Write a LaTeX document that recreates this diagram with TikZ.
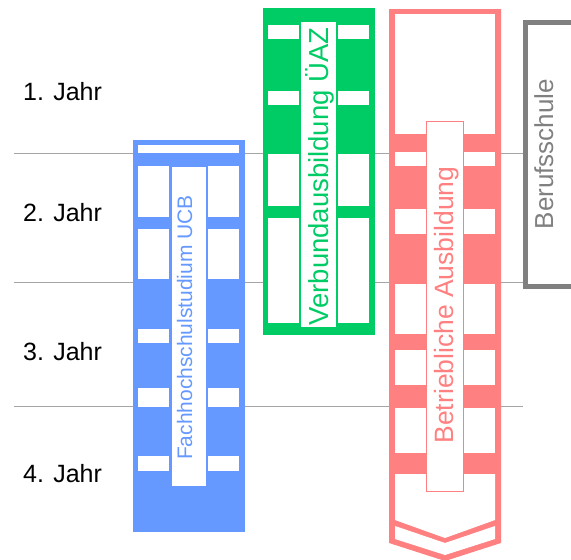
\documentclass[tikz,border=0pt]{standalone}
\usepackage{fontspec}
\setmainfont{Liberation Sans}
\usepackage{xcolor}
\definecolor{ucbblue}{RGB}{102,153,255}
\definecolor{uazgreen}{RGB}{0,204,102}
\definecolor{betrred}{RGB}{255,128,128}
\definecolor{linegray}{RGB}{165,165,165}
\definecolor{bsgray}{RGB}{128,128,128}
\tikzset{jahr/.style={anchor=base west,inner sep=0pt,font=\fontsize{25}{30}\selectfont},
	vtext/.style={rotate=90,anchor=base,inner sep=0pt}}

\begin{document}
\begin{tikzpicture}[x=1pt,y=-1pt]
		\useasboundingbox (0,0) rectangle (571,560);
		\draw[linegray] (14,153) -- (523,153);
		\draw[linegray] (14,282) -- (523,282);
		\draw[linegray] (14,406) -- (523,406);
		\node[jahr] (jahr1) at (23,100) {1. Jahr};
		\node[jahr] (jahr2) at (23,221) {2. Jahr};
		\node[jahr] (jahr3) at (23,360) {3. Jahr};
		\node[jahr] (jahr4) at (23,482) {4. Jahr};
		% Fachhochschulstudium
		\fill[ucbblue] (133,140) rectangle (245,532);
		\fill[white] (138,145) rectangle (239,153);
		\foreach \a/\b in {166/217,229/279,329/343,388/407,456/471}{
			\fill[white] (138,\a) rectangle (169,\b);
			\fill[white] (208,\a) rectangle (239,\b);}
		\fill[white] (172,167) rectangle (206,486);
		\node[vtext,text=ucbblue,font=\fontsize{21}{25}\selectfont] (ucb) at (192,327.5) {Fachhochschulstudium UCB};
		% Verbundausbildung
		\fill[uazgreen] (263,8) rectangle (375,335);
		\foreach \a/\b in {25/39,91/105,154/206,218/323}{
			\fill[white] (268,\a) rectangle (299,\b);
			\fill[white] (338,\a) rectangle (369,\b);}
		\fill[white] (301,22) rectangle (336,327);
		\node[vtext,text=uazgreen,font=\fontsize{27.5}{33}\selectfont] (uaz) at (328,176.5) {Verbundausbildung ÜAZ};
		% Betriebliche Ausbildung
		\fill[betrred] (389,9) -- (501,9) -- (501,543) -- (445,561) -- (389,543) -- cycle;
		\fill[white] (395,14) rectangle (495,134);
		\foreach \a/\b in {152/166,209/234,284/334,350/385,408/453}{
			\fill[white] (395,\a) rectangle (426,\b);
			\fill[white] (464,\a) rectangle (495,\b);}
		\fill[white] (395,474) -- (495,474) -- (495,520) -- (445,538) -- (395,520) -- cycle;
		\fill[white] (395,526) -- (445,543) -- (495,526) -- (495,539) -- (445,555) -- (395,539) -- cycle;
		\draw[betrred,fill=white,line width=1pt] (426.5,121.5) rectangle (463.5,491.5);
		\node[vtext,text=betrred,font=\fontsize{26.5}{32}\selectfont] (betrieb) at (453,305) {Betriebliche Ausbildung};
		% Berufsschule
		\draw[bsgray,line width=5pt] (525.5,22) rectangle (640,286);
		\node[vtext,text=bsgray,font=\fontsize{26}{31}\selectfont] (bs) at (553,154) {Berufsschule};
		\end{tikzpicture}
\end{document}
